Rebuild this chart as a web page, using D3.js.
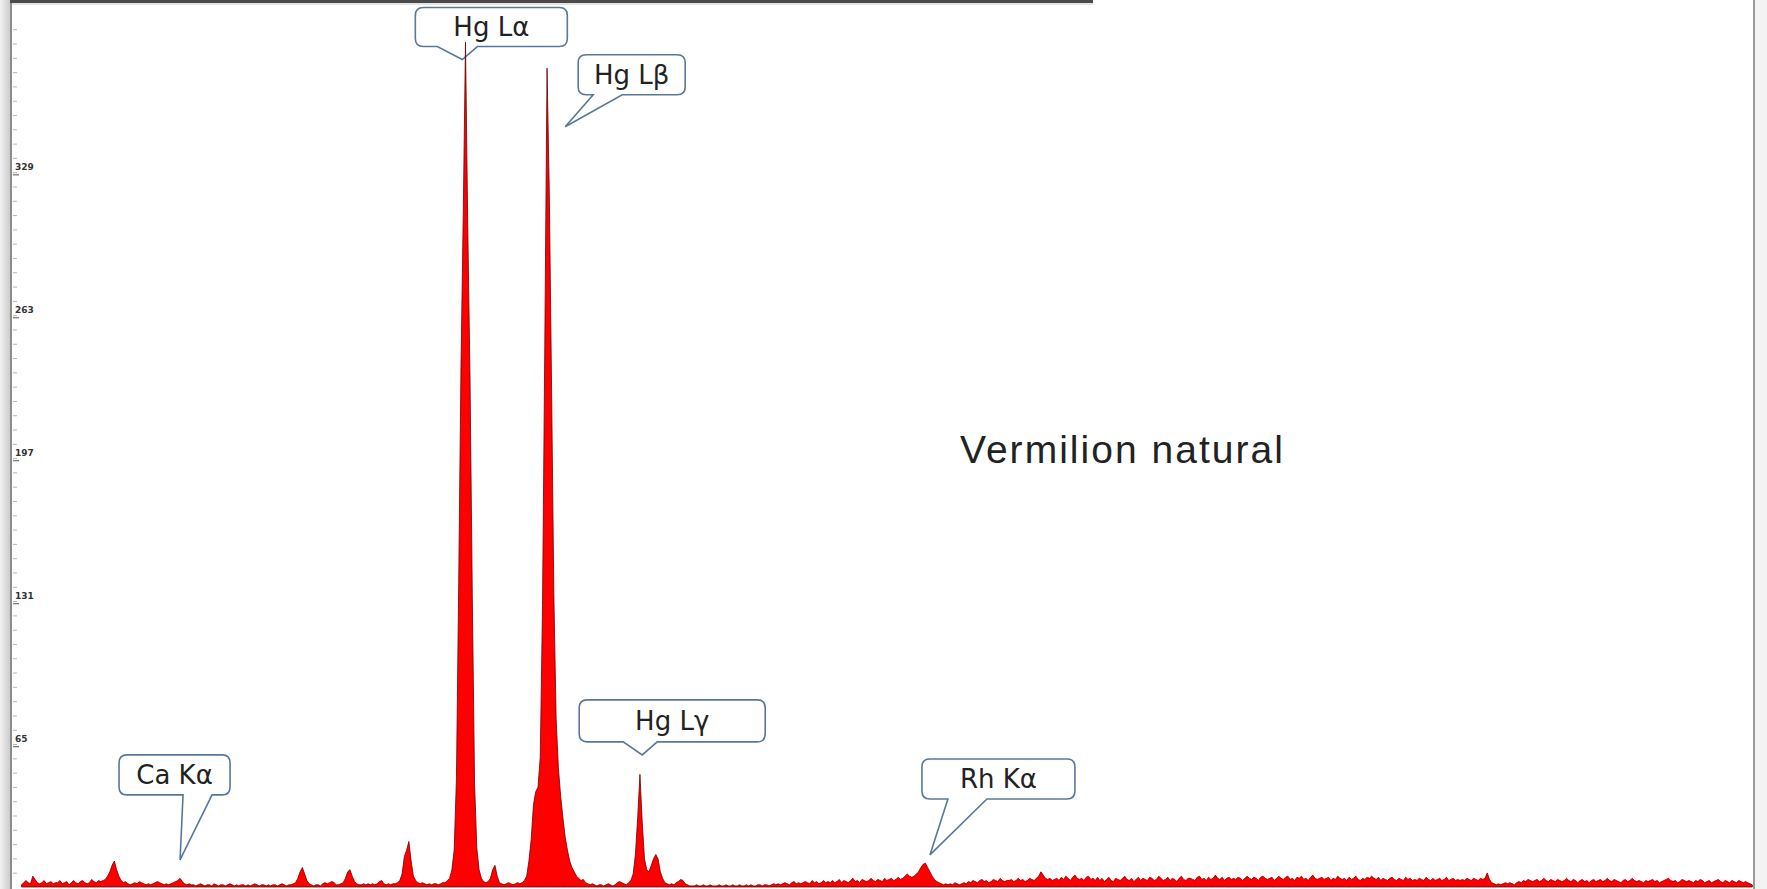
<!DOCTYPE html>
<html>
<head>
<meta charset="utf-8">
<script src="https://cdn.jsdelivr.net/npm/d3@7"></script>
<style>
  body { margin: 0; background: #fff; }
  svg { display: block; }
</style>
</head>
<body>
<svg width="1767" height="889"></svg>
<script>
// XRF spectrum, counts per 0.05 keV channel
const stepKeV = 0.05;

// 0.20 - 9.95 keV (S, Ca, Fe, Ni, Hg Ll)
const countsLow = [
  1,2,3,2,1.5,5,3.5,2,1.5,2,3,1.5,2,2.5,1.5,2,
  2,3,1.5,2,2.5,1,2,3,2,1.5,2.5,3,2,1.5,2,3.5,2.5,2,3,2.5,
  3,3.5,5,7,10,12,8,5,3,2,2.5,1.5,1,1.5,2,1.5,2.5,2,1.5,1,
  1.5,1,1.5,2,2.5,2,1.5,1,1.5,1,1.5,2,2.5,3,4,2.5,1.5,1,1.5,1,
  1,0.5,1,1.5,1,0.5,1,1,0.5,1.5,1,0.5,1,1,0.5,1,1.5,1,0.5,1,
  0.5,1,1,0.5,1,0.5,1,1.5,1,0.5,1,1,0.5,1,0.5,1,1,0.5,1,1.5,
  1,0.5,1,1,1.5,2,4,7,9,6,3,1.5,1,0.5,1,1,0.5,1.5,2,1.5,
  2,2.5,2,1,1,1.5,2,4,7,8,5,2.5,1.5,1,1,1.5,1,1.5,1,1.5,
  1,1.5,2.5,3,1.5,1,1.5,1,1.5,1.5,2,3,6,14,17,21,12,5,3,2,
  1.5,2,1.5,1,1.5,1,1.5,1.5,1,1.5,2,2,3,4,8,17,50,140,240,310
];
const startLow = 0.20;

// 10.00 - 14.95 keV (Hg L lines)
const countsHgL = [
  390,305,235,135,48,18,8,4,2.5,2,2.5,4,8,10,5,2,1.5,1,1.5,2,
  1.5,1,1.5,2,1.5,2,3,5,12,22,38,44,46,60,130,250,378,320,230,135,
  78,55,42,32,23,17,12,9,7,5,4,3,3.5,2,1.5,1,1.5,1,0.5,1,
  1,0.5,1,1.5,1,0.5,1,2,2.5,2,1.5,1,2,3,6,15,32,52,30,13,
  8,7,10,13,15,13,7,4,2,1.5,1,1.5,1,2,2.5,3.5,3,1.5,1,0.5
];
const startHgL = 10.00;

// 15.00 - 38.40 keV (Rh K lines, scatter background)
const countsHigh = [
  0.5,0.5,1,0.5,0.5,1,0.5,0.5,1,0.5,0.5,0.5,1,0.5,0.5,1,0.5,0.5,1,0.5,
  0.5,1,0.5,0.5,1,0.5,1,0.5,0.5,1,1,0.5,1,1,0.5,1,1.5,1,1.5,1,
  1.5,2,1.5,1,2,2.5,1.5,2,1.5,2,2.5,2,1.5,3,2,2.5,1.5,2,3,2,
  2.5,2,3,2,2.5,3.5,2,3,2.5,2,3,4,2.5,3,2,3.5,3,2.5,3,4,
  3,2.5,3.5,3,2.5,4,3,3.5,4,3,3.5,4.5,3.5,4,5,6,5,4.5,5,6,
  7,9,10.5,11,9,7,5,3.5,2.5,2,1.5,1,1.5,1,1.5,1,2,1.5,1,1.5,
  2,1.5,2.5,2,3,2.5,2,3,3.5,2.5,3,2,2.5,3.5,3,2.5,4,3,2.5,3,
  3,3.5,2.5,3,4,3,3.5,2.5,3,4,3.5,3,4,5,7,5.5,4,3.5,4,3,
  3.5,4,3,4.5,3.5,5,4,3,4.5,5.5,4,3.5,4,3,4.5,5,3.5,4,3,4.5,
  3,4,2.5,3.5,4.5,3,2.5,4,3.5,3,4,5,3.5,3,4,2.5,3.5,4.5,3,4,
  3.5,3,4.5,4,3,3.5,5,4,3,3.5,4.5,3,4,3.5,2.5,4,5,3.5,3,4,
  4,3.5,3,4.5,5,3.5,4,3,4.5,3.5,4,5.5,4,3.5,4.5,3,4,4.5,3.5,4,
  3.5,4.5,4,3,4,5,4,3.5,4.5,4,3,4.5,5,4,3.5,4,4.5,3,4,5,
  4,3.5,4.5,5,3.5,4,3,4.5,4,5,3.5,4,3,4.5,5.5,4,3.5,4,4.5,3.5,
  4,4.5,3,4,3.5,5,4,3.5,4,3,4.5,3.5,4,5,3.5,3,4,3.5,4.5,4,
  5,4,3.5,4.5,3,4,3.5,3,4,4.5,3.5,3,4,3.5,3,4.5,3.5,4,3,3.5,
  3,4,3.5,3,4.5,3.5,3,4,3,3.5,4,3,3.5,4.5,3,3.5,4,3,3.5,3,
  3.5,3,4,3.5,3,4,3.5,3,4,3.5,4,6.5,3.5,2,1.5,1,1.5,1,1.5,2,
  1.5,2,1.5,1,2,2.5,2,3,2.5,3.5,3,2.5,3,3.5,2.5,3,4,3,2.5,3.5,
  3,2.5,3.5,3,2.5,3,4,3,2.5,3.5,3,2,3,3.5,2.5,3,2,3,3.5,2.5,
  3,3.5,2.5,3,4,3,2.5,3.5,3,2.5,2,3,3.5,2.5,3,4,3,2.5,3,2.5,
  2,3,2.5,3,3.5,2.5,3,2,2.5,3,3.5,4,3,2.5,3,2,2.5,3.5,3,2.5,
  3,2.5,2,3,2.5,3.5,3,2,2.5,3,2,2.5,3,3.5,2.5,2,3,2.5,2,3,
  2.5,2,3,2.5,2,2.5,2,1.5,1
];
const startHigh = 15.00;

// y axis tick labels
const yTicks = [65, 131, 197, 263, 329];

// peak call-outs: label, energy (keV) and counts where the pointer ends
const calloutLabels = ["Hg L\u03b1", "Hg L\u03b2", "Hg L\u03b3", "Ca K\u03b1", "Rh K\u03b1"];
const calloutKeV = [9.93, 12.20, 13.90, 3.70, 20.25];
const calloutCounts = [382, 351, 61, 12.5, 14.8];

const sampleName = "Vermilion natural";

// call-out box layout relative to pointer tip: dx, dy, w, h, tail start, tail end
const calloutLayout = [
  [-47, -52, 152, 39, 22, 62],
  [13, -72, 107, 40, 15, 44],
  [-63, -55, 186, 42, 44, 78],
  [-61, -105, 111, 40, 64, 93],
  [-8, -96, 153, 40, 26, 65]
];

function toPoints(start, arr) {
  return arr.map(function (c, i) { return { keV: start + i * stepKeV, c: c }; });
}
const spectrum = toPoints(startLow, countsLow)
  .concat(toPoints(startHgL, countsHgL))
  .concat(toPoints(startHigh, countsHigh));

const svg = d3.select("svg");

const x = d3.scaleLinear().domain([0, 38.4]).range([12.4, 1752.3]);
const y = d3.scaleLinear().domain([0, 409.5]).range([887, 0]);

// window frame
const defs = svg.append("defs");
const grad = defs.append("linearGradient").attr("id", "leftShade");
grad.append("stop").attr("offset", "0%").attr("stop-color", "#f2f2f2");
grad.append("stop").attr("offset", "100%").attr("stop-color", "#c8c8c8");
svg.append("rect").attr("x", 0).attr("y", 0).attr("width", 11).attr("height", 889).attr("fill", "url(#leftShade)");
svg.append("line").attr("x1", 11).attr("x2", 11).attr("y1", 0).attr("y2", 889)
  .attr("stroke", "#8c8c8c").attr("stroke-width", 2);
svg.append("line").attr("x1", 10).attr("x2", 1093).attr("y1", 1.5).attr("y2", 1.5)
  .attr("stroke", "#4a4a4a").attr("stroke-width", 3);
svg.append("line").attr("x1", 12).attr("x2", 1093).attr("y1", 4).attr("y2", 4)
  .attr("stroke", "#e4e4e4").attr("stroke-width", 2);
svg.append("rect").attr("x", 1755).attr("y", 0).attr("width", 12).attr("height", 889).attr("fill", "#f3f3f3");
svg.append("line").attr("x1", 1754).attr("x2", 1754).attr("y1", 0).attr("y2", 889)
  .attr("stroke", "#9a9a9a").attr("stroke-width", 2);

// minor ticks
svg.append("g")
  .attr("transform", "translate(13,0)")
  .call(d3.axisRight(y).tickValues(d3.range(6.6, 400, 6.6)).tickSize(4).tickFormat(""))
  .call(g => g.select(".domain").remove())
  .call(g => g.selectAll("line").attr("stroke", "#b5b5b5"));

// major ticks + labels
svg.append("g")
  .attr("transform", "translate(13,0)")
  .call(d3.axisRight(y).tickValues(yTicks).tickSize(6).tickFormat(d3.format("d")))
  .call(g => g.select(".domain").remove())
  .call(g => g.selectAll("line").attr("stroke", "#555"))
  .call(g => g.selectAll("text")
    .attr("x", 2).attr("dy", -5)
    .attr("fill", "#333")
    .style("font-family", "DejaVu Sans, sans-serif")
    .style("font-size", "9px")
    .style("font-weight", "bold"));

// call-outs
function bubble(x0, y0, w, h, t1, t2, tx, ty) {
  const r = 8, x1 = x0 + w, y1 = y0 + h;
  return "M" + (x0 + r) + "," + y0 + " H" + (x1 - r) +
    " Q" + x1 + "," + y0 + " " + x1 + "," + (y0 + r) +
    " V" + (y1 - r) + " Q" + x1 + "," + y1 + " " + (x1 - r) + "," + y1 +
    " H" + (x0 + t2) + " L" + tx + "," + ty + " L" + (x0 + t1) + "," + y1 +
    " H" + (x0 + r) + " Q" + x0 + "," + y1 + " " + x0 + "," + (y1 - r) +
    " V" + (y0 + r) + " Q" + x0 + "," + y0 + " " + (x0 + r) + "," + y0 + " Z";
}

calloutLabels.forEach(function (label, i) {
  const tx = x(calloutKeV[i]), ty = y(calloutCounts[i]);
  const L = calloutLayout[i];
  const bx = tx + L[0], by = ty + L[1];
  svg.append("path")
    .attr("d", bubble(bx, by, L[2], L[3], L[4], L[5], tx, ty))
    .attr("fill", "#fff")
    .attr("stroke", "#58789a")
    .attr("stroke-width", 1.6);
  svg.append("text")
    .attr("x", bx + L[2] / 2)
    .attr("y", by + L[3] / 2)
    .attr("dy", "0.36em")
    .attr("text-anchor", "middle")
    .attr("fill", "#222")
    .style("font-family", "DejaVu Sans, sans-serif")
    .style("font-size", "26px")
    .text(label);
});

// spectrum, drawn over the call-out pointers
const area = d3.area()
  .x(d => x(d.keV))
  .y0(y(0))
  .y1(d => y(d.c));

svg.append("path")
  .datum(spectrum)
  .attr("d", area)
  .attr("fill", "#ff0000")
  .attr("stroke", "#6a0000")
  .attr("stroke-width", 0.8)
  .attr("stroke-linejoin", "round");

// sample name
svg.append("text")
  .attr("x", 960)
  .attr("y", 463)
  .attr("textLength", 323)
  .attr("lengthAdjust", "spacing")
  .attr("fill", "#222")
  .style("font-family", "Liberation Sans, Arial, sans-serif")
  .style("font-size", "39px")
  .text(sampleName);
</script>
</body>
</html>
